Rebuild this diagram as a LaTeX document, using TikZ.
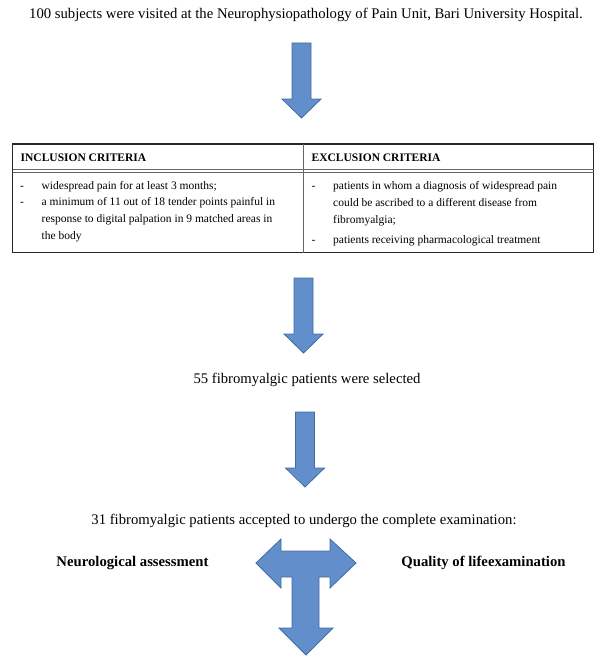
\documentclass[tikz,border=0pt]{standalone}
\usepackage{fontspec}
\setmainfont{Liberation Serif}
\usetikzlibrary{positioning, calc}

\begin{document}
\begin{tikzpicture}[x=1pt, y=-1pt]
    % --- Style Definitions ---
    \tikzset{
        arrow fill/.style={
            fill={rgb,255:red,98;green,143;blue,203},
            draw={rgb,255:red,65;green,108;blue,160},
            line width=0.8pt,
            line join=miter
        },
        step text/.style={font=\fontsize{14.7}{17}\selectfont, inner sep=0pt},
        branch text/.style={font=\fontsize{14.7}{17}\selectfont\bfseries, inner sep=0pt},
        head text/.style={font=\fontsize{11.5}{13}\selectfont\bfseries, inner sep=0pt, anchor=west},
        item text/.style={
            font=\fontsize{11.5}{17}\selectfont,
            inner sep=0pt,
            anchor=north west,
            align=left
        },
        table frame/.style={draw=black!85, line width=1.3pt},
        table rule/.style={draw=black!60, line width=0.7pt},
        down arrow/.pic={
            \path[arrow fill] (-9.5,0) -- (9.5,0) -- (9.5,56) -- (19.5,56)
                -- (0,75) -- (-19.5,56) -- (-9.5,56) -- cycle;
        }
    }
    \newcommand{\itemdash}{\makebox[21.5pt][l]{-}}
    \newcommand{\itemgap}{\hspace*{21.5pt}}
    \useasboundingbox (0,0) rectangle (600,661);

    % ==========================================
    % Subjects
    % ==========================================
    \node[step text] (visited) at (306,15)
        {100 subjects were visited at the Neurophysiopathology of Pain Unit, Bari University Hospital.};

    \pic at (301.5,43) {down arrow};

    % ==========================================
    % Criteria table
    % ==========================================
    \draw[table frame] (12.5,144) rectangle (593.5,252.5);
    % double rule under the header
    \draw[table rule] (12.5,169.3) -- (593.5,169.3);
    \draw[table rule] (12.5,172) -- (593.5,172);
    \draw[table rule] (303,144) -- (303,252.5);

    \node[head text] (incl) at (20.5,158) {INCLUSION CRITERIA};
    \node[head text] (excl) at (311.5,158) {EXCLUSION CRITERIA};

    % Left column
    \node[item text] (incl_item1) at (20,181) {\itemdash widespread pain for at least 3 months;};
    \node[item text] (incl_item2) at (20,197)
        {\itemdash a minimum of 11 out of 18 tender points painful in\\
         \itemgap response to digital palpation in 9 matched areas in\\
         \itemgap the body};

    % Right column
    \node[item text] (excl_item1) at (311.5,181)
        {\itemdash patients in whom a diagnosis of widespread pain\\
         \itemgap could be ascribed to a different disease from\\
         \itemgap fibromyalgia;};
    \node[item text] (excl_item2) at (311.5,235)
        {\itemdash patients receiving pharmacological treatment};

    \pic at (303.5,278) {down arrow};

    % ==========================================
    % Selection
    % ==========================================
    \node[step text] (selected) at (307,380) {55 fibromyalgic patients were selected};

    \pic at (305,412) {down arrow};

    \node[step text] (accepted) at (304,521)
        {31 fibromyalgic patients accepted to undergo the complete examination:};

    % ==========================================
    % Branches
    % ==========================================
    \node[branch text] (neuro) at (132.5,563) {Neurological assessment};
    \node[branch text] (quality) at (483.5,563) {Quality of lifeexamination};

    \path[arrow fill] (256,563) -- (281,539) -- (281,551) -- (330,551) -- (330,539)
        -- (356,563) -- (330,588) -- (330,577) -- (319,577) -- (319,628) -- (333,628)
        -- (306,655) -- (279,628) -- (292,628) -- (292,577) -- (281,577) -- (281,588)
        -- cycle;

\end{tikzpicture}
\end{document}
